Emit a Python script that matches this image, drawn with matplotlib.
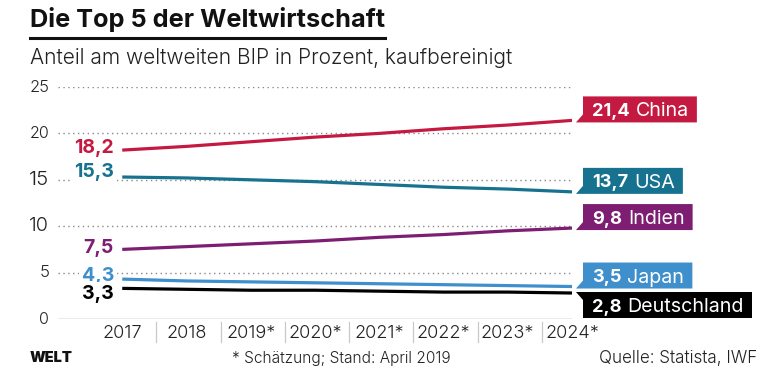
import matplotlib
matplotlib.use("Agg")
import matplotlib.pyplot as plt
from matplotlib.patches import Polygon
from matplotlib.lines import Line2D

years = [2017, 2018, 2019, 2020, 2021, 2022, 2023, 2024]
year_labels = ["2017", "2018", "2019*", "2020*", "2021*", "2022*", "2023*", "2024*"]
china = [18.2, 18.6, 19.1, 19.6, 20.0, 20.5, 20.9, 21.4]
usa = [15.3, 15.2, 15.0, 14.8, 14.5, 14.2, 14.0, 13.7]
indien = [7.5, 7.8, 8.1, 8.4, 8.8, 9.1, 9.5, 9.8]
japan = [4.3, 4.1, 4.0, 3.9, 3.8, 3.7, 3.6, 3.5]
deutschland = [3.3, 3.2, 3.1, 3.1, 3.0, 2.9, 2.9, 2.8]
names = ["China", "USA", "Indien", "Japan", "Deutschland"]
series = [china, usa, indien, japan, deutschland]
colors = ["#c41a41", "#16728e", "#7d1e72", "#3f8fcc", "#000000"]
yticks = [0, 5, 10, 15, 20, 25]

W, H = 780, 373
FONT = "Inter"
plt.rcParams["font.family"] = [FONT, "DejaVu Sans"]
TXT = "#222222"

fig = plt.figure(figsize=(W / 100, H / 100), dpi=100)
fig.patch.set_facecolor("white")
fig.canvas.draw()
renderer = fig.canvas.get_renderer()


def fx(px):
    return px / W


def fy(py):
    return (H - py) / H


def fit(t, width):
    t.set_fontsize(12)
    w = t.get_window_extent(renderer).width
    t.set_fontsize(12 * width / w)
    return 12 * width / w


ax_l, ax_r, ax_t, ax_b = 58, 572, 87, 319
ax = fig.add_axes([fx(ax_l), fy(ax_b), (ax_r - ax_l) / W, (ax_b - ax_t) / H])
ax.set_xlim(2016, 2024)
ax.set_ylim(0, 25)
for s in ax.spines.values():
    s.set_visible(False)
ax.set_xticks([])
ax.set_yticks([])
ax.patch.set_alpha(0)

for v in yticks[1:]:
    ax.axhline(v, color="#888888", lw=1.0, ls=(0, (1, 2.5)), zorder=1)
ax.axhline(0, color="#999999", lw=1.0, zorder=1)

for vals, c in zip(series, colors):
    ax.plot(years, vals, color=c, lw=2.3, solid_capstyle="butt", zorder=3)

# y tick labels
for v in yticks:
    t = ax.text(-0.017, v, str(v), transform=ax.get_yaxis_transform(), ha="right",
                va="center", color=TXT, fontweight=300)
    fit(t, 20 if v >= 10 else 10)

# start labels (baseline offsets in pixels below the line start)
base_off = [3, 0, 4, 2, 11]
lab_fs = None
for vals, c, off in zip(series, colors, base_off):
    t = ax.annotate(f"{vals[0]:.1f}".replace(".", ","), (years[0], vals[0]),
                    xytext=(-6, -off * 0.72), textcoords="offset points",
                    ha="right", va="baseline", fontweight="bold", color=c, zorder=4,
                    bbox=dict(boxstyle="square,pad=0.15", fc="white", ec="none"))
    if lab_fs is None:
        lab_fs = fit(t, 40)
    else:
        t.set_fontsize(lab_fs)

# x tick labels and separators
tick_fs = None
for yr, lab in zip(years, year_labels):
    t = ax.annotate(lab, (yr, 0), xytext=(0, -14 * 0.72), textcoords="offset points",
                    ha="center", va="center", color=TXT, fontweight=300)
    if tick_fs is None:
        t.set_text("2021*")
        tick_fs = fit(t, 50)
        t.set_text(lab)
    else:
        t.set_fontsize(tick_fs)
for i in range(len(years) - 1):
    xm = (years[i] + years[i + 1]) / 2 + 0.03
    ax.plot([xm, xm], [-0.35, -2.5], color="#c8c8c8", lw=0.9, clip_on=False)

fig.canvas.draw()

# end label boxes
box_x0 = 583
box_h = 26
box_fs = None
name_fs = None
for vals, c, name in zip(series, colors, names):
    end_px = ax.transData.transform((years[-1], vals[-1]))
    line_y = H - end_px[1]
    if name == "Deutschland":
        top = line_y - 1
        bottom = top + box_h
    else:
        bottom = line_y + 2
        top = bottom - box_h
    cy = (top + bottom) / 2
    t1 = fig.text(fx(box_x0 + 9), fy(cy), f"{vals[-1]:.1f}".replace(".", ","), ha="left",
                  va="center_baseline", fontweight="bold", color="white", zorder=5)
    if box_fs is None:
        box_fs = fit(t1, 38)
    else:
        t1.set_fontsize(box_fs)
    bb = t1.get_window_extent(renderer)
    t2 = fig.text(fx(bb.x1 + 6), fy(cy), name, ha="left", va="center_baseline",
                  color="white", zorder=5)
    if name_fs is None:
        name_fs = fit(t2, 53)
    else:
        t2.set_fontsize(name_fs)
    bb2 = t2.get_window_extent(renderer)
    x1 = bb2.x1 + 8
    if name == "Deutschland":
        pts = [(box_x0 - 7, top), (x1, top), (x1, bottom), (box_x0, bottom), (box_x0, top + 8)]
    else:
        pts = [(box_x0, top), (x1, top), (x1, bottom), (box_x0 - 7, bottom), (box_x0, bottom - 8)]
    poly = Polygon([(fx(px), fy(py)) for px, py in pts], closed=True,
                   transform=fig.transFigure, facecolor=c, edgecolor="none", zorder=4)
    fig.patches.append(poly)

# title
t = fig.text(fx(30), fy(20), "Die Top 5 der Weltwirtschaft", ha="left", va="center",
             fontweight="bold", color="#111111")
fit(t, 353)
fig.add_artist(Line2D([fx(30), fx(385)], [fy(38), fy(38)], color="#111111", lw=2.2,
                      transform=fig.transFigure))
t = fig.text(fx(30), fy(58), "Anteil am weltweiten BIP in Prozent, kaufbereinigt", ha="left",
             va="center", color=TXT, fontweight=300)
fit(t, 483)

# footer
t = fig.text(fx(30), fy(358), "WELT", ha="left", va="center", fontweight=900,
             color="#111111")
fit(t, 43)
t = fig.text(fx(232), fy(358), "* Schätzung; Stand: April 2019", ha="left", va="center",
             color=TXT, fontweight=300)
fit(t, 219)
t = fig.text(fx(757), fy(358), "Quelle: Statista, IWF", ha="right", va="center",
             color=TXT, fontweight=300)
fit(t, 159)

fig.savefig("out.png", dpi=100, facecolor="white")
